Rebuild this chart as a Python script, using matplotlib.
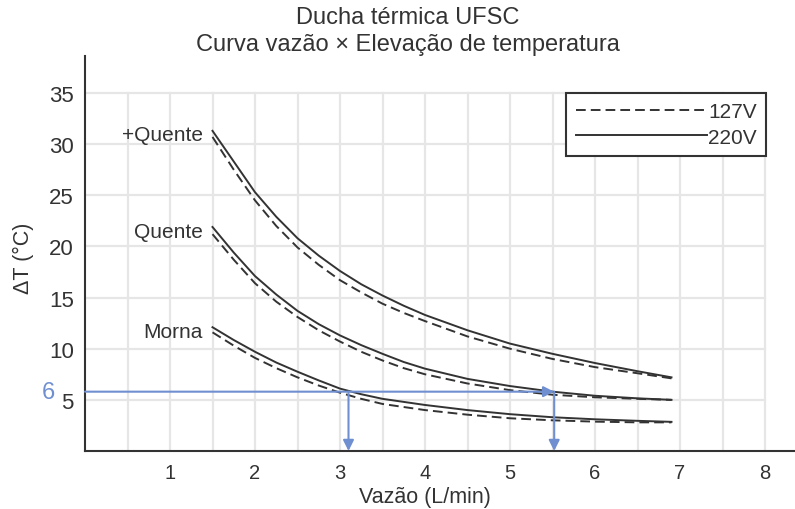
import matplotlib.pyplot as plt
from matplotlib.lines import Line2D

plt.rcParams['font.family'] = ['Liberation Sans', 'DejaVu Sans']

# Flow (L/min) where the curves were read
flow = [1.5, 1.75, 2, 2.25, 2.5, 2.75, 3, 3.25, 3.5, 3.75, 4, 4.5, 5, 5.5, 6, 6.5, 6.9]

# Temperature rise (°C)
mais_quente_220 = [31.3, 28.3, 25.3, 22.9, 20.8, 19.1, 17.6, 16.3, 15.2, 14.2, 13.3,
                   11.8, 10.5, 9.5, 8.6, 7.8, 7.2]
mais_quente_127 = [30.7, 27.5, 24.5, 22.0, 19.9, 18.2, 16.7, 15.5, 14.4, 13.5, 12.7,
                   11.2, 10.0, 9.0, 8.2, 7.6, 7.1]
quente_220 = [21.9, 19.4, 17.1, 15.3, 13.7, 12.4, 11.3, 10.35, 9.5, 8.7, 8.05,
              7.05, 6.35, 5.8, 5.4, 5.15, 5.0]
quente_127 = [21.2, 18.7, 16.4, 14.6, 13.1, 11.8, 10.7, 9.7, 8.85, 8.1, 7.5,
              6.6, 5.95, 5.5, 5.25, 5.1, 5.0]
morna_220 = [12.1, 10.85, 9.7, 8.65, 7.75, 6.9, 6.1, 5.55, 5.1, 4.8, 4.5,
             4.0, 3.6, 3.3, 3.1, 2.95, 2.85]
morna_127 = [11.6, 10.3, 9.1, 8.1, 7.2, 6.4, 5.7, 5.1, 4.6, 4.3, 4.0,
             3.55, 3.2, 3.0, 2.87, 2.8, 2.8]

curve_labels = ['+Quente', 'Quente', 'Morna']
x_ticks = [1, 2, 3, 4, 5, 6, 7, 8]
y_ticks = [5, 10, 15, 20, 25, 30, 35]

# example reading: 6 °C rise
target_dT = 5.8
flow_morna = 3.1
flow_quente = 5.52

ink = '#333333'
blue = '#6f8fd0'
gridc = '#e6e6e6'

fig = plt.figure(figsize=(7.95, 5.10), dpi=100)
ax = fig.add_axes([85 / 795, 58 / 510, 710 / 795, 395 / 510])
ax.set_xlim(0, 710 / 85)
ax.set_ylim(0, 395 / 10.229)

# grid (stops at x=8 and y=35 like the original)
for gx in [i * 0.5 for i in range(1, 17)]:
    ax.plot([gx, gx], [0, 35], color=gridc, lw=1.6, zorder=0)
for gy in y_ticks:
    ax.plot([0, 8], [gy, gy], color=gridc, lw=1.6, zorder=0)

for s220, s127 in [(mais_quente_220, mais_quente_127),
                   (quente_220, quente_127),
                   (morna_220, morna_127)]:
    ax.plot(flow, s220, color=ink, lw=1.4)
    ax.plot(flow, s127, color=ink, lw=1.4, dashes=(5, 2.6))

for lab, s220 in zip(curve_labels, [mais_quente_220, quente_220, morna_220]):
    ax.text(1.385, s220[0] - 0.4, lab, ha='right', va='center', fontsize=15, color=ink)

# blue reading lines
arrow = dict(arrowstyle='-|>', color=blue, lw=1.5, mutation_scale=16, shrinkA=0, shrinkB=0)
ax.annotate('', xy=(flow_quente, target_dT), xytext=(0, target_dT), arrowprops=arrow)
ax.annotate('', xy=(flow_morna, 0), xytext=(flow_morna, target_dT), arrowprops=arrow)
ax.annotate('', xy=(flow_quente, 0), xytext=(flow_quente, target_dT), arrowprops=arrow)
ax.text(-0.35, target_dT, '6', color=blue, fontsize=17, ha='right', va='center')

for side in ['top', 'right']:
    ax.spines[side].set_visible(False)
for side in ['left', 'bottom']:
    ax.spines[side].set_color(ink)
    ax.spines[side].set_linewidth(1.5)

ax.set_xticks(x_ticks)
ax.set_yticks(y_ticks)
ax.tick_params(axis='x', length=0, pad=9, labelsize=14.5, colors=ink)
ax.tick_params(axis='y', length=0, pad=8, labelsize=16, colors=ink)
ax.set_xlabel('Vazão (L/min)', fontsize=15.5, color=ink)
ax.xaxis.set_label_coords((425 - 85) / 710, -(487 - 452) / 395)
ax.set_ylabel('ΔT (°C)', fontsize=15.5, color=ink)
ax.yaxis.set_label_coords((34 - 85) / 710, (452 - 258) / 395)

handles = [Line2D([], [], color=ink, lw=1.4, dashes=(5, 2.6)),
           Line2D([], [], color=ink, lw=1.4)]
leg = ax.legend(handles, ['127V', '220V'], loc='upper right',
                bbox_to_anchor=((766 - 85) / 710, 35 / (395 / 10.229)),
                fontsize=15, handlelength=6.3, handletextpad=0.05, borderpad=0.45,
                labelspacing=0.3, fancybox=False, framealpha=1, borderaxespad=0)
leg.get_frame().set_edgecolor(ink)
leg.get_frame().set_linewidth(1.5)
for t in leg.get_texts():
    t.set_color(ink)

fig.text(408 / 795, 1 - 18 / 510, 'Ducha térmica UFSC', ha='center', va='center',
         fontsize=17, color=ink)
fig.text(408 / 795, 1 - 45 / 510, 'Curva vazão × Elevação de temperatura', ha='center',
         va='center', fontsize=17, color=ink)

fig.savefig('out.png', dpi=100)
